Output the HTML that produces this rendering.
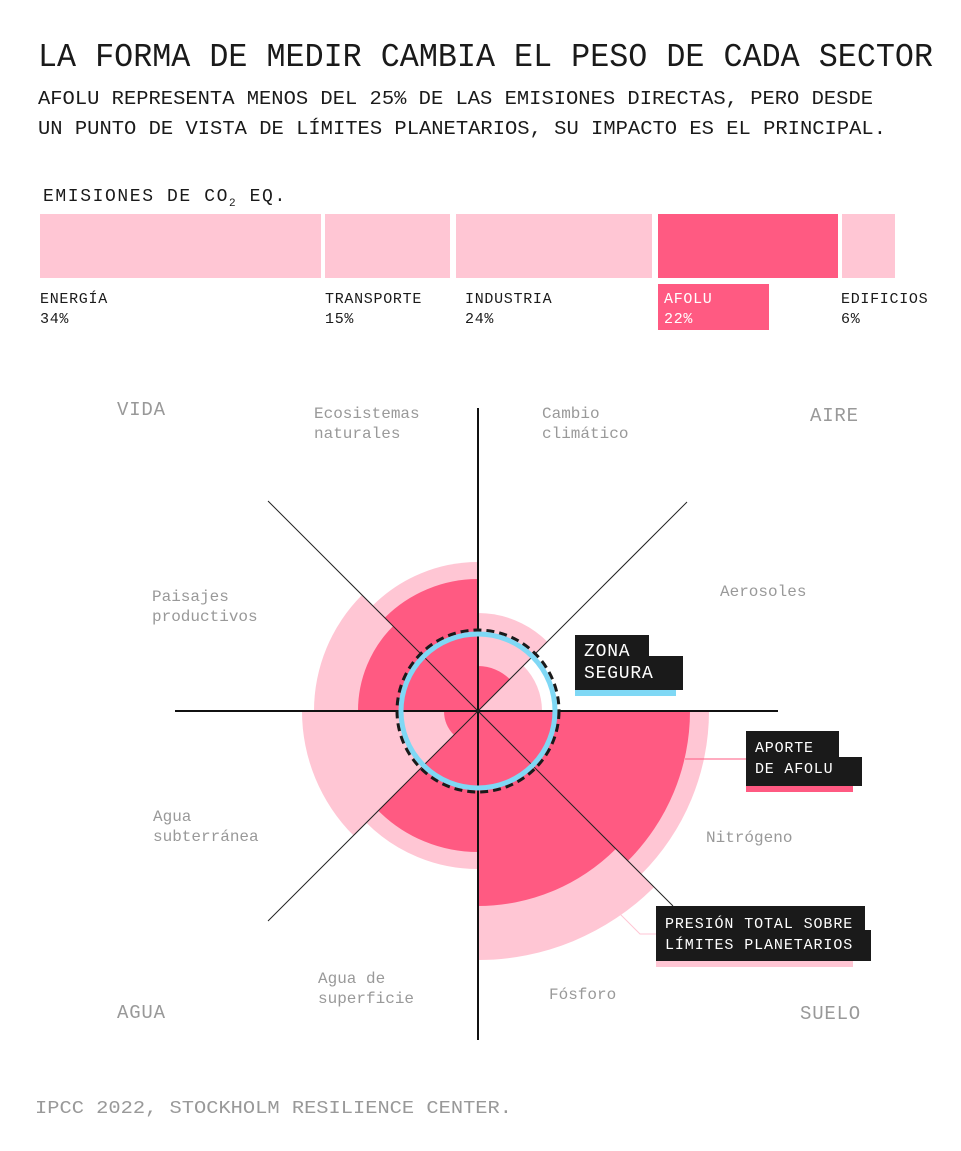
<!DOCTYPE html>
<html><head><meta charset="utf-8"><style>
body{margin:0;background:#fff;}
svg text{font-family:"Liberation Mono",monospace;}
</style></head><body>
<svg width="961" height="1146" viewBox="0 0 961 1146" xmlns="http://www.w3.org/2000/svg">
<rect width="961" height="1146" fill="#fff"/>
<text x="38" y="66" font-size="33" textLength="895" lengthAdjust="spacingAndGlyphs" fill="#1a1a1a">LA FORMA DE MEDIR CAMBIA EL PESO DE CADA SECTOR</text>
<text x="38" y="104" font-size="19" textLength="835" lengthAdjust="spacingAndGlyphs" fill="#1a1a1a">AFOLU REPRESENTA MENOS DEL 25% DE LAS EMISIONES DIRECTAS, PERO DESDE</text>
<text x="38" y="134" font-size="19" textLength="848" lengthAdjust="spacingAndGlyphs" fill="#1a1a1a">UN PUNTO DE VISTA DE LÍMITES PLANETARIOS, SU IMPACTO ES EL PRINCIPAL.</text>
<text x="43" y="201" font-size="18" letter-spacing="1.6" fill="#1a1a1a">EMISIONES DE CO<tspan font-size="11" dy="5">2</tspan><tspan dy="-5"> EQ.</tspan></text>
<rect x="40" y="214" width="281" height="64" fill="#ffc6d4"/>
<rect x="325" y="214" width="125" height="64" fill="#ffc6d4"/>
<rect x="456" y="214" width="196" height="64" fill="#ffc6d4"/>
<rect x="658" y="214" width="180" height="64" fill="#ff5a82"/>
<rect x="842" y="214" width="53" height="64" fill="#ffc6d4"/>
<rect x="658" y="284" width="111" height="46" fill="#ff5a82"/>
<g font-size="15" letter-spacing="0.7" fill="#1a1a1a">
<text x="40" y="303">ENERGÍA</text><text x="40" y="323">34%</text>
<text x="325" y="303">TRANSPORTE</text><text x="325" y="323">15%</text>
<text x="465" y="303">INDUSTRIA</text><text x="465" y="323">24%</text>
<text x="664" y="303" fill="#fff">AFOLU</text><text x="664" y="323" fill="#fff">22%</text>
<text x="841" y="303">EDIFICIOS</text><text x="841" y="323">6%</text>
</g>
<g fill="#ffc6d4">
<path d="M478 711 L478 613 A98 98 0 0 1 547.3 641.7Z"/>
<path d="M478 711 L523.3 665.7 A64 64 0 0 1 542 711Z"/>
<path d="M478 711 L709 711 A231 231 0 0 1 641.3 874.3Z"/>
<path d="M478 711 L654.1 887.1 A249 249 0 0 1 478 960Z"/>
<path d="M478 711 L478 869 A158 158 0 0 1 366.3 822.7Z"/>
<path d="M478 711 L353.5 835.5 A176 176 0 0 1 302 711Z"/>
<path d="M478 711 L314 711 A164 164 0 0 1 362 595Z"/>
<path d="M478 711 L372.6 605.6 A149 149 0 0 1 478 562Z"/>
</g>
<g fill="#ff5a82">
<path d="M478 711 L478 666 A45 45 0 0 1 509.8 679.2Z"/>
<path d="M478 711 L690 711 A212 212 0 0 1 627.9 860.9Z"/>
<path d="M478 711 L615.9 848.9 A195 195 0 0 1 478 906Z"/>
<path d="M478 711 L478 852 A141 141 0 0 1 378.3 810.7Z"/>
<path d="M478 711 L454 735 A34 34 0 0 1 444 711Z"/>
<path d="M478 711 L358 711 A120 120 0 0 1 393.1 626.1Z"/>
<path d="M478 711 L384.7 617.7 A132 132 0 0 1 478 579Z"/>
</g>
<line x1="685" y1="759" x2="746" y2="759" stroke="#ff5a82" stroke-width="1"/>
<polyline points="620,914 640,934 656,934" fill="none" stroke="#ffc6d4" stroke-width="1"/>
<line x1="175" y1="711" x2="778" y2="711" stroke="#111" stroke-width="2"/>
<line x1="478" y1="408" x2="478" y2="1040" stroke="#111" stroke-width="2"/>
<line x1="268" y1="501" x2="673" y2="906" stroke="#222" stroke-width="1"/>
<line x1="687" y1="502" x2="268" y2="921" stroke="#222" stroke-width="1"/>
<circle cx="478" cy="711" r="77" fill="none" stroke="#7fd8f5" stroke-width="5"/>
<circle cx="478" cy="711" r="81" fill="none" stroke="#1a1a1a" stroke-width="3" stroke-dasharray="8 5"/>
<g font-size="16" fill="#999">
<text x="314" y="418">Ecosistemas</text><text x="314" y="438">naturales</text>
<text x="542" y="418">Cambio</text><text x="542" y="438">climático</text>
<text x="720" y="596">Aerosoles</text>
<text x="152" y="601">Paisajes</text><text x="152" y="621">productivos</text>
<text x="153" y="821">Agua</text><text x="153" y="841">subterránea</text>
<text x="706" y="842">Nitrógeno</text>
<text x="318" y="983">Agua de</text><text x="318" y="1003">superficie</text>
<text x="549" y="999">Fósforo</text>
</g>
<g font-size="19" fill="#999" letter-spacing="0.8">
<text x="117" y="415">VIDA</text><text x="810" y="421">AIRE</text>
<text x="117" y="1018">AGUA</text><text x="800" y="1019">SUELO</text>
</g>
<rect x="575" y="690" width="101" height="6" fill="#7fd8f5"/>
<rect x="575" y="635" width="74" height="25" fill="#1a1a1a"/>
<rect x="575" y="656" width="108" height="34" fill="#1a1a1a"/>
<text x="584" y="656" font-size="18" fill="#fff" letter-spacing="0.8">ZONA</text>
<text x="584" y="678" font-size="18" fill="#fff" letter-spacing="0.8">SEGURA</text>
<rect x="746" y="786" width="107" height="6" fill="#ff5a82"/>
<rect x="746" y="731" width="93" height="30" fill="#1a1a1a"/>
<rect x="746" y="757" width="116" height="29" fill="#1a1a1a"/>
<text x="755" y="752" font-size="15" fill="#fff" letter-spacing="0.8">APORTE</text>
<text x="755" y="773" font-size="15" fill="#fff" letter-spacing="0.8">DE AFOLU</text>
<rect x="656" y="961" width="197" height="6" fill="#ffc6d4"/>
<rect x="656" y="906" width="209" height="30" fill="#1a1a1a"/>
<rect x="656" y="930" width="215" height="31" fill="#1a1a1a"/>
<text x="665" y="928" font-size="15" fill="#fff" letter-spacing="0.9">PRESIÓN TOTAL SOBRE</text>
<text x="665" y="949" font-size="15" fill="#fff" letter-spacing="0.9">LÍMITES PLANETARIOS</text>
<text x="35" y="1113" font-size="18" fill="#999" textLength="477" lengthAdjust="spacingAndGlyphs">IPCC 2022, STOCKHOLM RESILIENCE CENTER.</text>
</svg>
</body></html>
